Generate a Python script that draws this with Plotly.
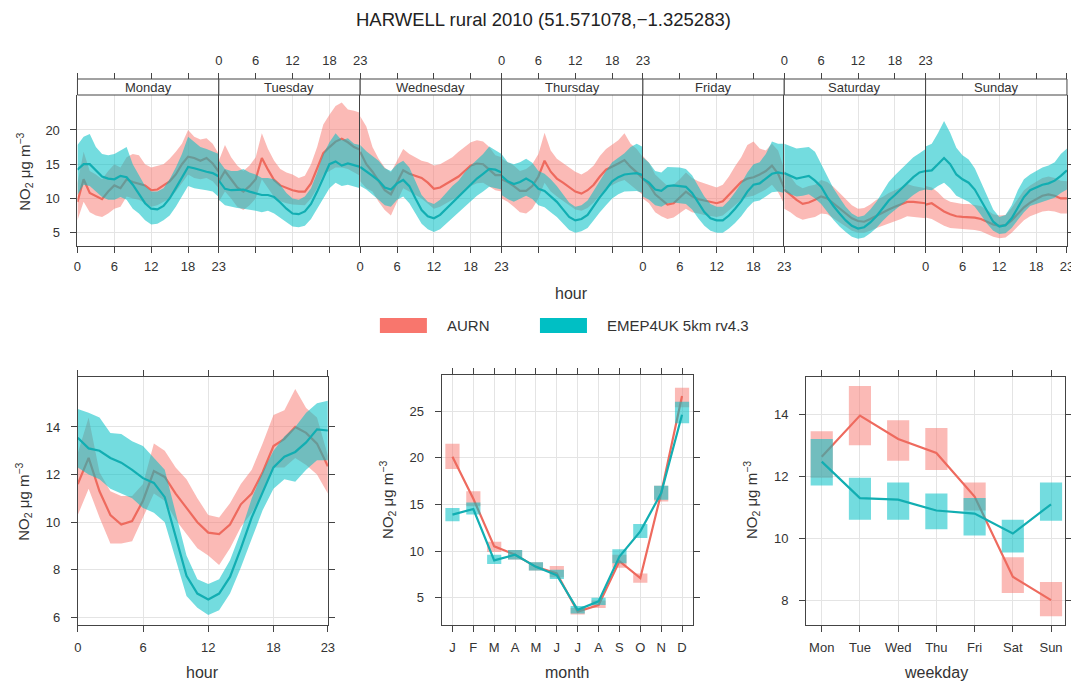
import plotly.graph_objects as go

# ---------------- data ----------------
day_names = ["Monday", "Tuesday", "Wednesday", "Thursday", "Friday", "Saturday", "Sunday"]
hours = list(range(24))
hour_ticks = [0, 6, 12, 18, 23]

# day.hour means and 95% CI (Mon..Sun, 24 values each)
aurn_dh_mean = [
    9.5, 12.8, 10.8, 10.3, 9.9, 11.0, 11.9, 11.5, 12.8, 12.4, 12.1, 11.9, 11.2, 11.3, 11.9, 12.5, 13.5, 15.0, 16.1, 15.9, 15.5, 15.9, 15.1, 13.9,
    12.5, 14.0, 12.8, 11.6, 11.0, 11.8, 12.8, 15.9, 14.2, 12.7, 11.9, 11.5, 11.2, 11.0, 11.0, 12.2, 14.3, 16.6, 17.5, 18.3, 18.7, 18.2, 17.5, 17.1,
    16.8, 15.0, 13.9, 12.5, 11.2, 10.6, 12.3, 14.1, 13.6, 13.3, 13.0, 12.3, 11.4, 11.6, 12.1, 12.6, 13.2, 14.0, 14.8, 15.1, 15.0, 14.2, 13.4, 13.4,
    12.8, 12.4, 11.8, 11.1, 11.1, 11.8, 13.2, 15.5, 13.9, 12.9, 12.3, 11.7, 11.0, 10.7, 11.2, 12.0, 13.2, 14.2, 14.6, 15.1, 15.6, 14.6, 13.8, 12.9,
    12.9, 12.0, 10.6, 9.8, 9.1, 9.3, 10.1, 11.0, 10.3, 9.9, 9.7, 9.5, 9.3, 9.6, 10.5, 11.5, 12.4, 12.9, 13.1, 13.5, 14.0, 14.8, 13.6, 11.5,
    11.3, 10.5, 9.8, 9.2, 9.4, 9.8, 10.3, 10.0, 9.3, 8.6, 7.8, 7.1, 6.7, 6.6, 7.0, 7.5, 7.9, 8.4, 8.8, 9.2, 9.5, 9.5, 9.4, 9.3,
    9.1, 9.3, 8.7, 8.1, 7.7, 7.4, 7.3, 7.3, 7.2, 7.0, 6.6, 6.2, 6.0, 6.1, 6.8, 7.8, 8.7, 9.4, 9.9, 10.4, 10.6, 10.4, 10.0, 10.0,
]
aurn_dh_lower = [
    6.8, 9.5, 8.0, 7.5, 7.3, 7.8, 8.5, 8.8, 10.3, 10.0, 9.8, 9.3, 8.8, 9.0, 9.5, 10.0, 11.0, 12.3, 13.5, 13.0, 12.8, 13.0, 12.5, 11.5,
    9.5, 11.0, 10.0, 8.8, 8.3, 9.0, 10.0, 12.8, 11.5, 10.2, 9.6, 9.3, 9.1, 9.0, 9.0, 10.0, 11.5, 13.5, 14.0, 14.5, 14.5, 14.3, 13.8, 13.3,
    12.5, 11.5, 11.0, 9.5, 8.3, 7.5, 9.5, 11.5, 11.0, 10.5, 10.0, 9.3, 8.5, 8.8, 9.3, 9.8, 10.3, 11.0, 11.8, 12.2, 12.3, 11.8, 11.2, 11.0,
    10.0, 9.5, 8.8, 8.0, 7.8, 8.5, 10.0, 12.3, 11.0, 10.3, 9.7, 9.0, 8.4, 8.2, 8.6, 9.4, 10.5, 11.5, 12.0, 12.4, 12.7, 12.0, 11.2, 10.5,
    10.0, 9.3, 8.0, 7.4, 7.0, 7.2, 7.8, 8.5, 8.0, 7.8, 7.6, 7.4, 7.3, 7.5, 8.2, 9.0, 9.8, 10.2, 10.4, 10.8, 11.3, 12.0, 10.9, 9.2,
    8.5, 8.0, 7.3, 6.9, 7.1, 7.3, 7.8, 7.7, 7.2, 6.5, 5.9, 5.3, 5.0, 5.0, 5.3, 5.7, 6.0, 6.3, 6.7, 7.0, 7.4, 7.3, 7.2, 7.1,
    7.2, 7.0, 6.5, 6.0, 5.7, 5.6, 5.5, 5.5, 5.4, 5.2, 4.8, 4.4, 4.2, 4.3, 5.0, 5.9, 6.8, 7.4, 7.7, 8.1, 8.2, 8.1, 7.8, 7.8,
]
aurn_dh_upper = [
    12.2, 16.8, 14.0, 13.5, 12.8, 14.0, 15.0, 14.5, 16.0, 16.5, 16.3, 15.0, 14.5, 14.8, 15.0, 15.8, 16.8, 18.0, 20.0, 19.0, 18.6, 18.8, 18.0, 16.5,
    15.5, 17.8, 16.0, 14.8, 14.0, 14.8, 16.0, 19.5, 17.2, 15.5, 14.3, 13.8, 13.5, 13.0, 13.3, 15.0, 17.5, 20.8, 22.2, 23.5, 24.0, 23.0, 22.8, 22.5,
    22.0, 20.5, 17.5, 15.8, 14.5, 13.8, 15.5, 17.2, 16.5, 16.0, 15.5, 15.3, 14.8, 15.0, 15.5, 16.0, 16.8, 17.5, 18.2, 18.5, 18.3, 17.5, 16.3, 16.0,
    15.8, 15.3, 14.8, 14.0, 14.3, 15.0, 16.5, 19.6, 17.0, 15.8, 15.2, 14.5, 13.9, 13.5, 14.0, 14.8, 16.2, 17.2, 17.8, 18.5, 19.5, 18.0, 17.2, 16.0,
    16.2, 15.2, 13.5, 12.6, 11.8, 12.0, 12.8, 13.8, 13.0, 12.5, 12.2, 11.9, 11.6, 12.0, 13.2, 14.7, 16.0, 17.8, 18.3, 17.3, 17.0, 18.0, 17.0, 14.3,
    14.0, 13.2, 12.0, 11.5, 11.8, 12.0, 12.7, 12.4, 11.7, 10.8, 9.8, 9.0, 8.5, 8.6, 9.1, 9.8, 10.2, 10.8, 11.2, 11.6, 12.1, 11.8, 11.6, 11.5,
    11.8, 11.6, 10.9, 10.0, 9.5, 9.3, 9.2, 9.2, 9.0, 8.9, 8.3, 7.7, 7.5, 7.6, 8.6, 9.9, 11.2, 11.9, 12.4, 13.0, 13.2, 13.0, 12.6, 12.5,
]
emep_dh_mean = [
    14.2, 15.0, 15.0, 14.1, 13.2, 12.9, 12.8, 13.3, 13.1, 12.0, 10.6, 9.3, 8.5, 8.4, 8.9, 10.0, 11.5, 13.0, 14.6, 14.4, 14.1, 13.9, 13.7, 13.2,
    12.6, 11.4, 11.2, 11.2, 11.3, 11.0, 10.7, 10.5, 10.5, 10.2, 9.4, 8.5, 7.8, 7.7, 8.1, 9.2, 11.0, 13.0, 15.0, 15.4, 14.8, 15.1, 14.8, 14.6,
    14.6, 14.0, 13.3, 12.6, 11.6, 11.3, 12.2, 12.7, 11.8, 10.0, 8.3, 7.4, 7.1, 7.6, 8.5, 9.4, 10.2, 11.2, 12.1, 12.9, 13.6, 14.3, 14.2, 13.8,
    13.3, 12.5, 12.1, 12.4, 12.9, 12.4, 11.4, 11.1, 10.3, 9.5, 8.4, 7.3, 6.8, 7.0, 7.6, 8.9, 10.2, 11.3, 12.5, 13.1, 13.5, 13.6, 13.7, 13.4,
    12.9, 12.3, 11.3, 11.1, 11.8, 11.9, 11.8, 11.7, 10.8, 9.3, 8.0, 7.1, 6.8, 6.8, 7.5, 8.5, 9.6, 11.0, 12.0, 12.2, 12.9, 13.6, 13.8, 13.6,
    13.7, 13.3, 12.9, 13.1, 13.3, 12.6, 11.7, 10.2, 8.9, 7.8, 6.8, 6.0, 5.6, 5.8, 6.5, 7.4, 8.6, 9.7, 10.5, 11.4, 12.3, 13.1, 13.8, 14.0,
    14.0, 14.1, 15.0, 15.9, 15.0, 13.5, 12.8, 12.3, 11.3, 9.7, 8.0, 6.6, 5.9, 6.1, 7.1, 8.7, 10.2, 11.2, 11.6, 12.0, 12.2, 12.6, 13.3, 14.1,
]
emep_dh_lower = [
    10.5, 12.0, 11.8, 11.0, 10.2, 9.8, 9.8, 10.2, 9.8, 8.5, 7.8, 6.8, 6.2, 6.3, 6.8, 7.5, 8.8, 10.2, 11.8, 11.5, 11.3, 11.2, 11.0, 10.2,
    9.8, 9.0, 8.8, 8.6, 8.5, 8.4, 8.2, 8.0, 8.2, 7.8, 7.2, 6.5, 5.9, 5.8, 6.0, 7.0, 8.5, 10.0, 11.5, 12.3, 11.8, 12.0, 11.8, 11.5,
    11.8, 11.3, 10.5, 9.8, 9.0, 8.8, 9.8, 10.3, 9.3, 7.7, 6.3, 5.5, 5.1, 5.5, 6.3, 7.1, 7.9, 8.8, 9.6, 10.4, 11.0, 11.7, 11.5, 11.3,
    10.5, 9.9, 9.5, 9.9, 10.4, 9.9, 9.0, 8.7, 8.0, 7.3, 6.3, 5.4, 5.0, 5.2, 5.7, 6.8, 8.0, 9.0, 10.0, 10.6, 11.0, 11.1, 11.1, 10.8,
    10.3, 9.8, 9.0, 8.8, 9.3, 9.4, 9.3, 9.2, 8.4, 7.1, 6.0, 5.3, 5.0, 5.0, 5.6, 6.4, 7.4, 8.6, 9.5, 9.7, 10.3, 10.9, 11.0, 10.8,
    11.0, 10.6, 10.3, 10.4, 10.6, 10.0, 9.2, 8.0, 6.9, 5.9, 5.1, 4.4, 4.1, 4.3, 4.9, 5.7, 6.7, 7.6, 8.3, 9.1, 9.8, 10.5, 11.1, 11.3,
    11.3, 11.2, 11.8, 12.3, 11.5, 10.4, 9.9, 9.5, 8.8, 7.6, 6.3, 5.3, 4.8, 4.9, 5.7, 6.9, 8.0, 8.9, 9.2, 9.6, 9.8, 10.1, 10.8, 11.3,
]
emep_dh_upper = [
    17.8, 19.0, 19.4, 17.5, 16.5, 16.3, 16.5, 17.0, 17.5, 15.0, 13.5, 11.8, 11.0, 11.0, 11.5, 12.8, 14.5, 16.5, 19.0, 18.3, 17.5, 17.2, 16.8, 16.5,
    15.5, 14.3, 14.0, 14.0, 14.3, 13.8, 13.5, 13.0, 13.0, 12.8, 12.0, 10.8, 10.0, 9.8, 10.3, 11.5, 13.8, 16.5, 18.2, 19.5, 18.5, 18.8, 18.0, 17.8,
    17.8, 16.9, 16.2, 15.5, 14.4, 14.0, 15.0, 15.5, 14.5, 12.5, 10.5, 9.5, 9.2, 9.8, 10.8, 11.8, 12.6, 13.8, 14.8, 15.7, 16.5, 17.6, 17.0, 16.5,
    16.5, 15.3, 15.0, 15.3, 15.8, 15.2, 14.0, 13.6, 12.8, 11.8, 10.6, 9.4, 8.8, 9.0, 9.7, 11.2, 12.7, 14.0, 15.3, 15.9, 16.6, 17.5, 18.0, 17.5,
    16.0, 15.2, 14.0, 13.8, 14.6, 14.6, 14.5, 14.3, 13.4, 11.8, 10.3, 9.2, 8.8, 8.8, 9.7, 10.9, 12.2, 13.8, 15.0, 15.3, 16.5, 18.3, 18.0, 18.0,
    18.0, 17.6, 17.3, 17.4, 17.5, 16.8, 15.0, 13.2, 11.5, 10.1, 8.8, 7.8, 7.3, 7.5, 8.4, 9.5, 11.0, 12.4, 13.4, 14.3, 15.2, 16.0, 16.6, 17.2,
    17.6, 18.0, 19.5, 21.3, 19.6, 17.4, 16.3, 15.7, 14.4, 12.4, 10.3, 8.4, 7.3, 7.6, 9.0, 11.2, 12.8, 13.5, 14.0, 14.5, 14.8, 15.3, 16.5, 17.3,
]

# hour of day
aurn_h_mean = [11.6, 12.7, 11.3, 10.3, 9.9, 10.05, 10.9, 12.15, 11.9, 11.2, 10.6, 10.0, 9.56, 9.5, 9.9, 10.75, 11.2, 12.1, 13.2, 13.5, 14.0, 13.75, 13.3, 12.35]
aurn_h_lower = [10.3, 11.4, 10.2, 9.1, 9.1, 9.2, 10.2, 11.2, 10.9, 10.1, 9.5, 8.9, 8.6, 8.2, 8.9, 9.8, 10.4, 11.2, 12.3, 12.3, 12.7, 12.4, 12.0, 11.2]
aurn_h_upper = [12.9, 14.4, 12.1, 11.3, 11.1, 11.1, 11.6, 13.3, 13.0, 12.3, 11.8, 11.0, 10.3, 10.2, 10.8, 11.6, 12.2, 13.3, 14.5, 14.7, 15.6, 14.8, 14.4, 12.8]
emep_h_mean = [13.55, 13.1, 13.0, 12.7, 12.5, 12.2, 11.85, 11.65, 11.05, 9.45, 7.75, 7.0, 6.75, 7.0, 7.7, 8.9, 10.2, 11.25, 12.3, 12.75, 12.95, 13.35, 13.9, 13.85]
emep_h_lower = [12.3, 12.0, 11.8, 11.4, 11.2, 11.0, 10.6, 10.4, 10.0, 8.5, 6.9, 6.4, 6.1, 6.3, 7.0, 8.1, 9.3, 10.5, 11.4, 11.8, 11.7, 12.2, 12.6, 12.6]
emep_h_upper = [14.75, 14.6, 14.4, 13.75, 13.7, 13.4, 13.2, 12.7, 12.2, 10.4, 8.6, 7.6, 7.4, 7.6, 8.4, 9.6, 11.0, 12.1, 13.0, 13.6, 14.0, 14.6, 15.0, 15.1]

# month
months = list(range(1, 13))
month_labels = ["J", "F", "M", "A", "M", "J", "J", "A", "S", "O", "N", "D"]
aurn_m_mean = [20.1, 15.6, 10.5, 9.6, 8.3, 7.6, 3.5, 4.2, 8.9, 7.1, 16.2, 26.6]
aurn_m_lower = [18.8, 14.8, 9.9, 9.1, 7.9, 7.2, 3.2, 3.9, 8.2, 6.6, 15.3, 25.4]
aurn_m_upper = [21.5, 16.4, 11.0, 10.1, 8.8, 8.4, 3.9, 4.7, 9.6, 7.6, 17.0, 27.5]
emep_m_mean = [13.9, 14.5, 9.0, 9.6, 8.3, 7.4, 3.7, 4.6, 9.4, 12.1, 16.2, 24.6]
emep_m_lower = [13.2, 13.9, 8.6, 9.1, 7.9, 7.0, 3.3, 4.2, 8.7, 11.4, 15.5, 23.7]
emep_m_upper = [14.6, 15.2, 9.6, 10.1, 8.8, 8.0, 4.1, 5.0, 10.2, 12.9, 17.0, 26.0]

# weekday
weekdays = list(range(1, 8))
weekday_labels = ["Mon", "Tue", "Wed", "Thu", "Fri", "Sat", "Sun"]
aurn_w_mean = [12.63, 13.95, 13.2, 12.75, 11.35, 8.77, 8.02]
aurn_w_lower = [11.95, 13.0, 12.5, 12.2, 10.9, 8.25, 7.5]
aurn_w_upper = [13.45, 14.9, 13.8, 13.55, 11.8, 9.4, 8.6]
emep_w_mean = [12.47, 11.3, 11.25, 10.9, 10.8, 10.16, 11.1]
emep_w_lower = [11.7, 10.6, 10.6, 10.3, 10.1, 9.55, 10.57]
emep_w_upper = [13.2, 11.95, 11.8, 11.45, 11.3, 10.6, 11.8]

series_names = ["AURN", "EMEP4UK 5km rv4.3"]

# ---------------- style ----------------
# page body has an 8px margin; horizontal placement calibrated to the rendered page
OFF = 8
W, H = 1079, 684 - OFF
SX, X0 = 0.9894, 4.35
FONT = "Liberation Sans, Arial, sans-serif"
TXT = "#333333"
FRAME = "#444444"
GRID = "#E4E4E4"
RED_SW = "#F8766D"
TEAL_SW = "#00BFC4"
RED_LINE = "#EE6A5E"
TEAL_LINE = "#12AEB2"
RED_FILL = "rgba(248,118,109,0.5)"
TEAL_FILL = "rgba(0,191,196,0.55)"


def fx(p):
    return ((p - X0) / SX - OFF) / W


def fy(p):
    return 1 - (p - OFF) / H


tickfont = dict(family=FONT, size=13, color=TXT)
fig = go.Figure()


def band(x, lo, up, fill, xa, ya):
    fig.add_trace(go.Scatter(x=list(x) + list(x)[::-1], y=list(up) + list(lo)[::-1],
                             fill="toself", fillcolor=fill, mode="lines", line=dict(width=0),
                             hoverinfo="skip", showlegend=False, xaxis=xa, yaxis=ya))


def line(x, y, color, xa, ya, width=2.2):
    fig.add_trace(go.Scatter(x=x, y=y, mode="lines", line=dict(color=color, width=width),
                             hoverinfo="skip", showlegend=False, xaxis=xa, yaxis=ya))


def boxes(xs, lo, up, hw, fill, xa, ya):
    px, py = [], []
    for x, l, u in zip(xs, lo, up):
        px += [x - hw, x + hw, x + hw, x - hw, x - hw, None]
        py += [l, l, u, u, l, None]
    fig.add_trace(go.Scatter(x=px, y=py, fill="toself", fillcolor=fill, mode="lines",
                             line=dict(width=0), hoverinfo="skip", showlegend=False,
                             xaxis=xa, yaxis=ya))


def text(t, xp, yp, size, xanchor="center", angle=0, color=TXT):
    return dict(text=t, x=fx(xp), y=fy(yp), xref="paper", yref="paper", showarrow=False,
                xanchor=xanchor, yanchor="middle", textangle=angle,
                font=dict(family=FONT, size=size, color=color))


layout = {}
shapes = []
annotations = []

# ---------------- top panel (day.hour) ----------------
TOP_Y0, TOP_Y1 = 245.7, 95.0
STRIP_TOP = 79.0
x_left0, pw = 77.7, 141.3
for k, dname in enumerate(day_names):
    xa = "x" if k == 0 else f"x{k + 1}"
    ya = "y" if k == 0 else f"y{k + 1}"
    sl = slice(24 * k, 24 * (k + 1))
    band(hours, aurn_dh_lower[sl], aurn_dh_upper[sl], RED_FILL, xa, ya)
    line(hours, aurn_dh_mean[sl], RED_LINE, xa, ya)
    band(hours, emep_dh_lower[sl], emep_dh_upper[sl], TEAL_FILL, xa, ya)
    line(hours, emep_dh_mean[sl], TEAL_LINE, xa, ya)
    L, R = x_left0 + k * pw, x_left0 + (k + 1) * pw
    xkey = "xaxis" if k == 0 else f"xaxis{k + 1}"
    ykey = "yaxis" if k == 0 else f"yaxis{k + 1}"
    layout[xkey] = dict(domain=[fx(L), fx(R)], range=[0, 23], anchor=ya, tickvals=hour_ticks,
                        ticks="outside", ticklen=6, tickcolor=FRAME, showticklabels=(k % 2 == 0),
                        showline=True, linecolor=FRAME, linewidth=1, showgrid=True, gridcolor=GRID,
                        zeroline=False, tickfont=tickfont, ticklabelstandoff=3)
    layout[ykey] = dict(domain=[fy(TOP_Y0), fy(TOP_Y1)], range=[3.1, 25.1], anchor=xa,
                        tickvals=[5, 10, 15, 20], showgrid=True, gridcolor=GRID, zeroline=False,
                        showline=True, mirror=(k == 6), linecolor=FRAME, linewidth=1,
                        ticks="outside" if k in (0, 6) else "", ticklen=6, tickcolor=FRAME,
                        showticklabels=(k == 0), side="right" if k == 6 else "left",
                        tickfont=tickfont, ticklabelstandoff=8)
    # top axis above the strip
    tn = 8 + k
    layout[f"xaxis{tn}"] = dict(overlaying=xa, side="top", anchor="free", position=fy(STRIP_TOP),
                                range=[0, 23], tickvals=hour_ticks, ticks="outside", ticklen=6,
                                tickcolor=FRAME, showticklabels=(k % 2 == 1), showgrid=False,
                                zeroline=False, showline=False, tickfont=tickfont,
                                ticklabelstandoff=3)
    fig.add_trace(go.Scatter(x=[0, 23], y=[None, None], mode="lines", showlegend=False,
                             hoverinfo="skip", xaxis=f"x{tn}", yaxis=ya))
    # strip
    shapes.append(dict(type="rect", xref="paper", yref="paper", x0=fx(L), x1=fx(R),
                       y0=fy(TOP_Y1), y1=fy(STRIP_TOP), line=dict(color=FRAME, width=1),
                       fillcolor="white", layer="above"))
    annotations.append(text(dname, (L + R) / 2, (TOP_Y1 + STRIP_TOP) / 2 + 0.5, 13))

# ---------------- bottom panels ----------------
common_ax = dict(ticks="outside", ticklen=6, tickcolor=FRAME, showline=True, mirror="ticks",
                 linecolor=FRAME, linewidth=1, showgrid=True, gridcolor=GRID, zeroline=False,
                 tickfont=tickfont)

# hour
band(hours, aurn_h_lower, aurn_h_upper, RED_FILL, "x15", "y8")
line(hours, aurn_h_mean, RED_LINE, "x15", "y8")
band(hours, emep_h_lower, emep_h_upper, TEAL_FILL, "x15", "y8")
line(hours, emep_h_mean, TEAL_LINE, "x15", "y8")
layout["xaxis15"] = dict(common_ax, domain=[fx(78), fx(328)], range=[0, 23], anchor="y8",
                         tickvals=hour_ticks, ticklabelstandoff=4)
layout["yaxis8"] = dict(common_ax, domain=[fy(625), fy(376.5)], range=[5.68, 16.12], anchor="x15",
                        tickvals=[6, 8, 10, 12, 14], ticklabelstandoff=8)

# month
boxes(months, aurn_m_lower, aurn_m_upper, 0.34, RED_FILL, "x16", "y9")
line(months, aurn_m_mean, RED_LINE, "x16", "y9")
boxes(months, emep_m_lower, emep_m_upper, 0.34, TEAL_FILL, "x16", "y9")
line(months, emep_m_mean, TEAL_LINE, "x16", "y9")
layout["xaxis16"] = dict(common_ax, domain=[fx(441.7), fx(693.3)], range=[0.48, 12.54], anchor="y9",
                         tickvals=months, ticktext=month_labels, ticklabelstandoff=4)
layout["yaxis9"] = dict(common_ax, domain=[fy(625), fy(375)], range=[2.07, 28.86], anchor="x16",
                        tickvals=[5, 10, 15, 20, 25], ticklabelstandoff=8)

# weekday
boxes(weekdays, aurn_w_lower, aurn_w_upper, 0.29, RED_FILL, "x17", "y10")
line(weekdays, aurn_w_mean, RED_LINE, "x17", "y10")
boxes(weekdays, emep_w_lower, emep_w_upper, 0.29, TEAL_FILL, "x17", "y10")
line(weekdays, emep_w_mean, TEAL_LINE, "x17", "y10")
layout["xaxis17"] = dict(common_ax, domain=[fx(806), fx(1065)], range=[0.59, 7.37], anchor="y10",
                         tickvals=weekdays, ticktext=weekday_labels, ticklabelstandoff=4)
layout["yaxis10"] = dict(common_ax, domain=[fy(625), fy(376.7)], range=[7.22, 15.2], anchor="x17",
                         tickvals=[8, 10, 12, 14], ticklabelstandoff=8)

# ---------------- texts ----------------
ylab = "NO<sub>2</sub> μg m<sup>−3</sup>"
for (xp, yp) in [(24, 172), (24, 502), (387, 500), (751, 500)]:
    annotations.append(text(ylab, xp, yp, 15, angle=-90))
for t, xp, yp in [("hour", 572, 293), ("hour", 203, 672), ("month", 567.5, 672),
                  ("weekday", 935.5, 672)]:
    annotations.append(text(t, xp, yp, 16))
annotations.append(text("HARWELL rural 2010 (51.571078,−1.325283)", 543.5, 19, 18.5,
                        color="#222222"))

# legend
for (x0, x1, col, name, tx) in [(380, 427, RED_SW, series_names[0], 445),
                                (540, 587, TEAL_SW, series_names[1], 605)]:
    shapes.append(dict(type="rect", xref="paper", yref="paper", x0=fx(x0), x1=fx(x1),
                       y0=fy(333), y1=fy(318), line=dict(width=0), fillcolor=col))
    annotations.append(text(name, tx, 325.5, 15, xanchor="left"))

fig.update_layout(width=W, height=H, margin=dict(l=0, r=0, t=0, b=0),
                  paper_bgcolor="white", plot_bgcolor="white", showlegend=False,
                  shapes=shapes, annotations=annotations, **layout)
fig.write_html("out.html")
